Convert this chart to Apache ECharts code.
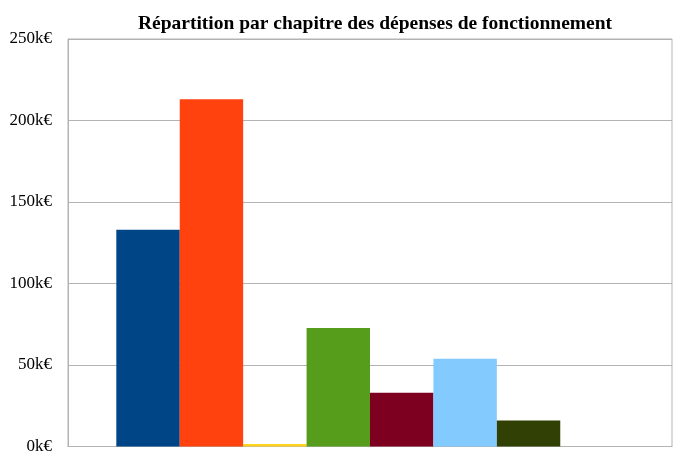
<!DOCTYPE html>
<html>
<head>
<meta charset="utf-8">
<script src="https://cdn.jsdelivr.net/npm/echarts@6/dist/echarts.min.js"></script>
<style>
  html, body { margin: 0; padding: 0; background: #fff; }
  #chart { width: 674px; height: 455px; }
</style>
</head>
<body>
<div id="chart"></div>
<script>
// données (k€)
const categories = [''];
const chapitres = ['Chap. 1', 'Chap. 2', 'Chap. 3', 'Chap. 4', 'Chap. 5', 'Chap. 6', 'Chap. 7', 'Chap. 8'];
const montants = [133, 213, 1.5, 72.7, 33, 53.8, 16, 0];
const couleurs = ['#004586', '#ff420e', '#ffd320', '#579d1c', '#7e0021', '#83caff', '#314004', '#aecf00'];
const yTicks = [0, 50, 100, 150, 200, 250];

const chart = echarts.init(document.getElementById('chart'));

const series = chapitres.map((nom, i) => ({
  name: nom,
  type: 'bar',
  data: [montants[i]],
  barGap: '0%',
  barCategoryGap: '16%',
  itemStyle: { color: couleurs[i] }
}));

const option = {
  backgroundColor: '#fff',
  animation: false,
  title: {
    text: 'Répartition par chapitre des dépenses de fonctionnement',
    left: 370,
    textAlign: 'center',
    top: 9,
    textStyle: { fontFamily: 'Liberation Serif', fontWeight: 'bold', fontSize: 19.5, color: '#000' }
  },
  grid: {
    left: 68, right: 2, top: 39, bottom: 7,
    show: true, borderColor: '#b3b3b3', borderWidth: 1
  },
  xAxis: {
    type: 'category',
    data: categories,
    axisLine: { lineStyle: { color: '#b3b3b3' } },
    axisTick: { show: false },
    axisLabel: { show: false }
  },
  yAxis: {
    type: 'value',
    min: yTicks[0],
    max: yTicks[yTicks.length - 1],
    interval: 50,
    axisLine: { show: true, lineStyle: { color: '#b3b3b3' } },
    axisTick: { show: false },
    splitLine: { lineStyle: { color: '#b3b3b3' } },
    axisLabel: {
      margin: 16,
      fontFamily: 'Liberation Serif',
      fontSize: 17,
      color: '#000',
      formatter: v => v + 'k€'
    }
  },
  series: series
};

chart.setOption(option);
</script>
</body>
</html>
